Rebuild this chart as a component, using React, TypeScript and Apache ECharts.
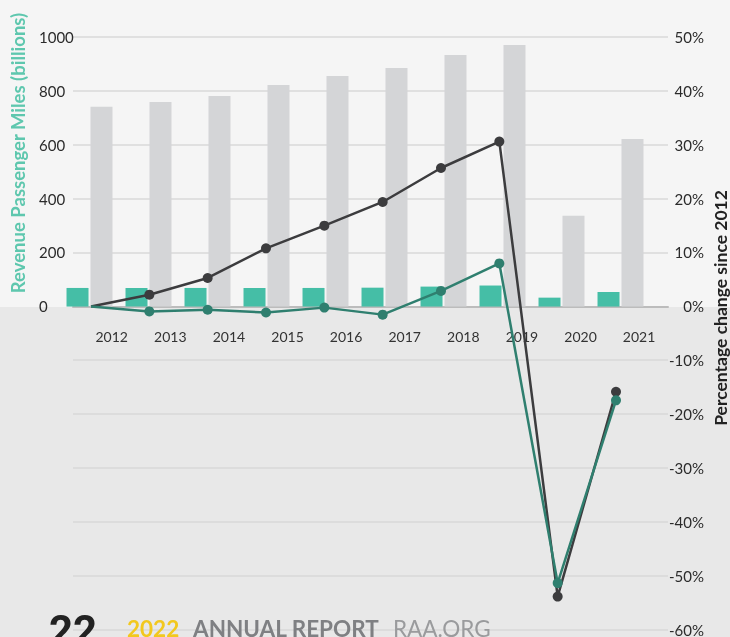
import React, { useEffect, useRef } from "react";
import * as echarts from "echarts";

const years = ["2012", "2013", "2014", "2015", "2016", "2017", "2018", "2019", "2020", "2021"];
const grayBars = [741, 759, 781, 822, 855, 885, 933, 970, 337, 622];
const tealBars = [69, 69, 69, 69, 69, 70, 74, 78, 33, 54];
const darkPct = [0, 2.2, 5.3, 10.8, 15.0, 19.4, 25.7, 30.6, -53.8, -15.8];
const tealPct = [0, -0.9, -0.6, -1.1, -0.2, -1.5, 2.9, 8.0, -51.3, -17.4];
const leftTicks = { min: -1200, max: 1000, interval: 200 };
const rightTicks = { min: -60, max: 50, interval: 10 };

const FONT = "Lato";

export default function App() {
  const ref = useRef<HTMLDivElement>(null);
  useEffect(() => {
    if (!ref.current) return;
    const chart = echarts.init(ref.current, undefined, { renderer: "svg" });
    const lineData = (arr: number[]) =>
      arr.map((v, i) => (i === 0 ? { value: v, symbolSize: 0 } : v));
    chart.setOption({
      animation: false,
      textStyle: { fontFamily: FONT },
      grid: [
        { left: 73, top: 37, width: 595, height: 593 },
        { left: 60, top: 37, width: 590, height: 593 },
        { left: 91, top: 37, width: 525, height: 593 },
        { left: 82.4, top: 37, width: 586, height: 270 },
      ],
      xAxis: [
        {
          gridIndex: 0, type: "value", min: 0, max: 1,
          axisLine: { show: true, onZero: true, onZeroAxisIndex: 0, lineStyle: { color: "#bcbcbc", width: 2 } },
          axisTick: { show: false }, axisLabel: { show: false }, splitLine: { show: false },
        },
        {
          gridIndex: 1, type: "category", data: years, boundaryGap: true,
          axisLine: { show: false }, axisTick: { show: false }, axisLabel: { show: false },
        },
        {
          gridIndex: 2, type: "category", data: years, boundaryGap: false,
          axisLine: { show: false }, axisTick: { show: false }, axisLabel: { show: false },
        },
        {
          gridIndex: 3, type: "category", data: years, boundaryGap: true, position: "bottom",
          axisLine: { show: false }, axisTick: { show: false },
          axisLabel: { show: true, margin: 22, color: "#333", fontSize: 14, fontFamily: FONT },
        },
      ],
      yAxis: [
        {
          gridIndex: 0, type: "value", position: "left", ...leftTicks,
          axisLine: { show: false }, axisTick: { show: false }, splitLine: { show: false },
          axisLabel: {
            align: "left", margin: 34, color: "#2b2b2b", fontSize: 15, fontFamily: FONT,
            formatter: (v: number) => (v >= 0 ? String(v) : ""),
          },
        },
        {
          gridIndex: 0, type: "value", position: "right", ...rightTicks,
          axisLine: { show: false }, axisTick: { show: false },
          splitLine: { show: true, lineStyle: { color: "#d9d9d9", width: 1.5 } },
          axisLabel: {
            align: "right", margin: 36, color: "#2b2b2b", fontSize: 15, fontFamily: FONT,
            formatter: "{value}%",
          },
        },
        { gridIndex: 1, type: "value", ...leftTicks, show: false, splitLine: { show: false } },
        { gridIndex: 2, type: "value", ...rightTicks, show: false, splitLine: { show: false } },
        { gridIndex: 3, type: "value", min: 0, max: 1, show: false, splitLine: { show: false } },
      ],
      series: [
        {
          type: "bar", xAxisIndex: 1, yAxisIndex: 2, data: tealBars,
          barWidth: 22, barGap: "9%", itemStyle: { color: "#45bea6" }, z: 2,
        },
        {
          type: "bar", xAxisIndex: 1, yAxisIndex: 2, data: grayBars,
          barWidth: 22, barGap: "9%", itemStyle: { color: "#d4d5d7" }, z: 2,
        },
        {
          type: "line", xAxisIndex: 2, yAxisIndex: 3, data: lineData(darkPct),
          symbol: "circle", symbolSize: 10, lineStyle: { color: "#3c3c3e", width: 2.5 },
          itemStyle: { color: "#3c3c3e" }, z: 5,
        },
        {
          type: "line", xAxisIndex: 2, yAxisIndex: 3, data: lineData(tealPct),
          symbol: "circle", symbolSize: 10, lineStyle: { color: "#2f7f6f", width: 2.5 },
          itemStyle: { color: "#2f7f6f" }, z: 6,
        },
      ],
      graphic: [
        { type: "rect", z: -100, silent: true, shape: { x: 0, y: 0, width: 730, height: 307 }, style: { fill: "#f5f5f5" } },
        { type: "rect", z: -100, silent: true, shape: { x: 0, y: 307, width: 730, height: 330 }, style: { fill: "#e8e8e8" } },
        {
          type: "text", x: 18, y: 153, rotation: Math.PI / 2, z: 100,
          style: { text: "Revenue Passenger Miles (billions)", fill: "#5ec7ae", fontSize: 18.5, fontWeight: "bold", fontFamily: FONT, align: "center", verticalAlign: "middle" },
        },
        {
          type: "text", x: 720, y: 308, rotation: Math.PI / 2, z: 100,
          style: { text: "Percentage change since 2012", fill: "#222", fontSize: 17.5, fontWeight: "bold", fontFamily: FONT, align: "center", verticalAlign: "middle" },
        },
        {
          type: "text", x: 49, y: 609, z: 100,
          style: { text: "22", fill: "#222", fontSize: 42, fontWeight: "bold", fontFamily: "Roboto", align: "left", verticalAlign: "top" },
        },
        {
          type: "text", x: 127, y: 617, z: 100,
          style: { text: "2022", fill: "#f2c81e", fontSize: 22.5, fontWeight: "bold", fontFamily: FONT, align: "left", verticalAlign: "top" },
        },
        {
          type: "text", x: 193, y: 617, z: 100,
          style: { text: "ANNUAL REPORT", fill: "#7f8083", fontSize: 22.5, fontWeight: "bold", fontFamily: FONT, align: "left", verticalAlign: "top" },
        },
        {
          type: "text", x: 393, y: 617, z: 100,
          style: { text: "RAA.ORG", fill: "#9a9b9d", fontSize: 22.5, fontWeight: "normal", fontFamily: FONT, align: "left", verticalAlign: "top" },
        },
      ],
    });
    return () => chart.dispose();
  }, []);
  return (
    <div
      ref={ref}
      style={{ position: "fixed", left: 0, top: 0, width: 730, height: 637 }}
    />
  );
}
